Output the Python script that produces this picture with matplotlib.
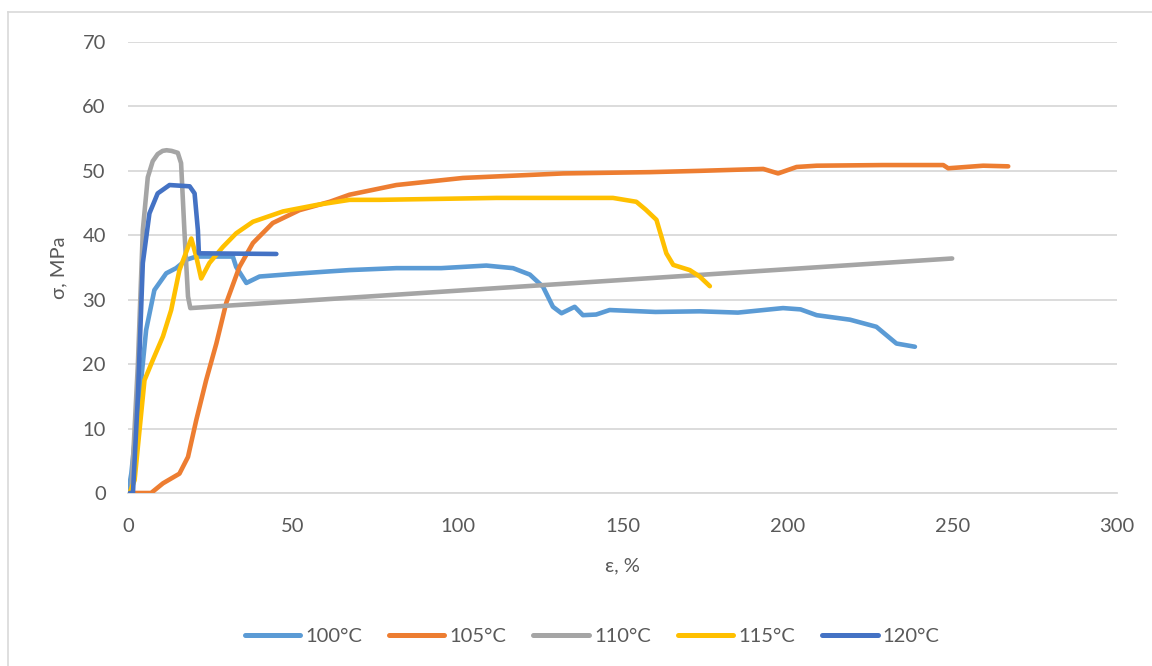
import matplotlib
matplotlib.use("Agg")
import matplotlib.pyplot as plt
from matplotlib.lines import Line2D

plt.rcParams['font.family'] = ['Lato', 'DejaVu Sans']

# ---- data (strain %, stress MPa) ----
labels = ["100°C", "105°C", "110°C", "115°C", "120°C"]
colors = ["#5B9BD5", "#ED7D31", "#A5A5A5", "#FFC000", "#4472C4"]

x100 = [0, 1, 2, 3.5, 5.5, 8, 11.6, 14.6, 17.7, 20.7, 31.8, 32.8, 35.9, 39.9, 50, 61.2, 67.2,
        81.4, 95, 108.7, 112.7, 116.8, 121.9, 125.9, 128.9, 131.5, 135.5, 138, 142, 146.1,
        160, 173.4, 185, 198.7, 204, 208.9, 219, 227, 233.1, 238.7]
y100 = [0, 3, 8, 15, 25.3, 31.5, 34.1, 34.9, 36.2, 36.7, 36.7, 35.1, 32.6, 33.6, 34.0, 34.4, 34.6,
        34.9, 34.9, 35.3, 35.1, 34.9, 33.9, 32.0, 28.9, 27.9, 28.9, 27.6, 27.7, 28.4,
        28.1, 28.2, 28.0, 28.7, 28.5, 27.6, 26.9, 25.8, 23.2, 22.7]

x105 = [0.5, 7, 10.6, 15.6, 18.2, 20.7, 23.7, 26.8, 29.8, 33.8, 37.9, 43.9, 52, 61.2, 67.2,
        81.4, 101.6, 132, 158.3, 173.4, 192.7, 197.2, 202.8, 208.9, 229, 247.3, 248.8, 259.4, 267]
y105 = [0, 0, 1.5, 3.0, 5.6, 11.3, 17.5, 23.2, 29.5, 35.1, 38.8, 41.9, 43.9, 45.2, 46.3,
        47.8, 48.9, 49.6, 49.8, 50.0, 50.3, 49.6, 50.6, 50.8, 50.9, 50.9, 50.4, 50.8, 50.7]

x110 = [0, 1, 3, 4.5, 6, 7.5, 9, 10.5, 11.7, 13.2, 15.1, 16.1, 17.1, 18.2, 18.9, 250]
y110 = [0, 0, 20, 40.8, 49.0, 51.5, 52.6, 53.1, 53.2, 53.1, 52.8, 51.2, 40.8, 30.5, 28.7, 36.4]

x115 = [0.5, 2, 3.5, 5, 7.5, 10.6, 13.1, 15.6, 19.2, 20.7, 22.2, 24.7, 28.8, 32.8, 37.9, 47,
        57.1, 67.2, 76.3, 111.8, 147.1, 154.2, 157, 160.3, 163.3, 165.4, 170.4, 173.4, 176.5]
y115 = [0, 2, 9.8, 17.5, 20.6, 24.3, 28.4, 34.6, 39.5, 36.7, 33.3, 35.7, 38.2, 40.3, 42.1, 43.7,
        44.7, 45.5, 45.5, 45.8, 45.8, 45.2, 44.0, 42.4, 37.2, 35.4, 34.6, 33.6, 32.1]

x120 = [0.5, 1.5, 3, 4.5, 6.5, 9, 12.6, 18.7, 20.2, 21.2, 21.5, 45]
y120 = [0, 0, 15, 35.7, 43.4, 46.5, 47.8, 47.6, 46.5, 40.8, 37.2, 37.1]

series = [(x100, y100), (x105, y105), (x110, y110), (x115, y115), (x120, y120)]

xticks = [0, 50, 100, 150, 200, 250, 300]
yticks = [0, 10, 20, 30, 40, 50, 60, 70]

W, H = 1152, 666
fig = plt.figure(figsize=(W / 100, H / 100), dpi=100)
ax = fig.add_axes([128 / W, 1 - 493 / H, (1117 - 128) / W, (493 - 42) / H])

tick_color = "#595959"
grid_color = "#D9D9D9"
fs = 14.5

for (xs, ys), c, lab in zip(series, colors, labels):
    ax.plot(xs, ys, color=c, lw=3.3, label=lab, solid_joinstyle="round",
            solid_capstyle="round", zorder=3)

ax.set_xlim(0, 300)
ax.set_ylim(0, 70)
ax.set_xticks(xticks)
ax.set_yticks(yticks)
ax.yaxis.grid(True, color=grid_color, lw=1.3)
ax.set_axisbelow(True)
for s in ["top", "right", "left"]:
    ax.spines[s].set_visible(False)
ax.spines["bottom"].set_color(grid_color)
ax.spines["bottom"].set_linewidth(1.3)
ax.tick_params(axis="both", length=0, labelsize=fs, labelcolor=tick_color)
ax.tick_params(axis="x", pad=18)
ax.tick_params(axis="y", pad=16)

ax.set_xlabel("ε, %", fontsize=fs, color=tick_color, labelpad=16)
ax.set_ylabel("σ, MPa", fontsize=fs, color=tick_color, labelpad=11)

handles = [Line2D([0], [0], color=c, lw=3.6, solid_capstyle="round") for c in colors]
fig.legend(handles, labels, loc="center", bbox_to_anchor=(592 / W, 1 - 636 / H), ncol=5,
           frameon=False, fontsize=fs, handlelength=2.75, handletextpad=0.25,
           columnspacing=1.35, labelcolor=tick_color)

# chart frame
fig.add_artist(Line2D([8 / W, 8 / W], [0, 1 - 12 / H], color="#D9D9D9", lw=1.2,
                      transform=fig.transFigure))
fig.add_artist(Line2D([8 / W, 1], [1 - 12 / H, 1 - 12 / H], color="#D9D9D9", lw=1.2,
                      transform=fig.transFigure))

fig.savefig("out.png", dpi=100)
